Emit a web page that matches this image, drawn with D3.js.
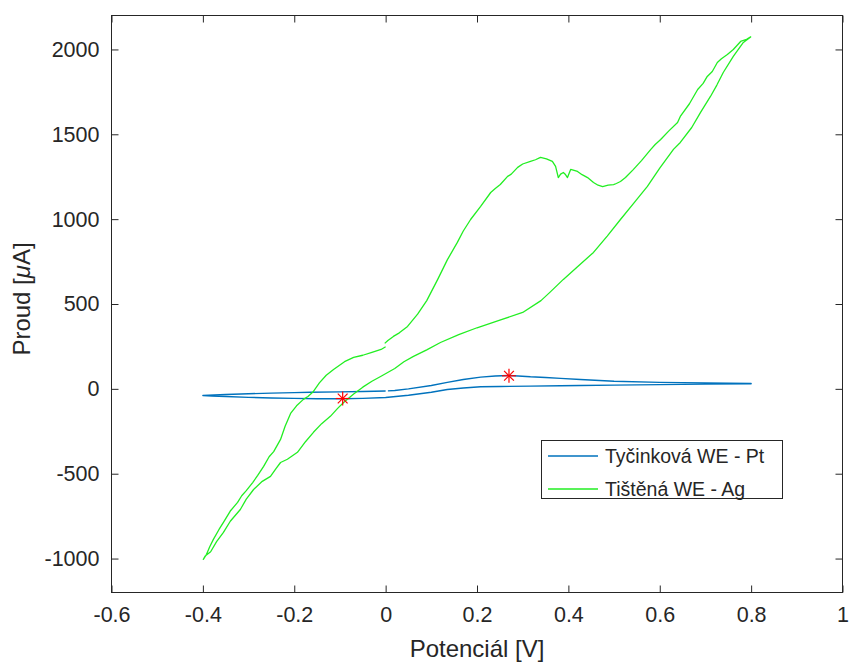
<!DOCTYPE html>
<html>
<head>
<meta charset="utf-8">
<script src="https://cdn.jsdelivr.net/npm/d3@7"></script>
<style>
  html, body { margin: 0; padding: 0; background: #fff; }
  svg { display: block; font-family: "Liberation Sans", Arial, Helvetica, sans-serif; }
</style>
</head>
<body>
<svg id="chart" width="849" height="664"></svg>
<script>
// ---- Data ----
const xTicks = [-0.6, -0.4, -0.2, 0, 0.2, 0.4, 0.6, 0.8, 1];
const xTickLabels = ["-0.6", "-0.4", "-0.2", "0", "0.2", "0.4", "0.6", "0.8", "1"];
const yTicks = [-1000, -500, 0, 500, 1000, 1500, 2000];
const yTickLabels = ["-1000", "-500", "0", "500", "1000", "1500", "2000"];

const seriesNames = ["Tyčinková WE - Pt", "Tištěná WE - Ag"];

// Pt rod electrode (blue)
const ptPotential = [0.0, -0.05, -0.1, -0.164, -0.2, -0.25, -0.3, -0.35, -0.4,
  -0.38, -0.35, -0.3, -0.25, -0.2, -0.15, -0.094, -0.05, 0.0, 0.05, 0.1, 0.135, 0.17, 0.208, 0.25, 0.317, 0.383, 0.426, 0.5, 0.6, 0.7, 0.8,
  0.8, 0.7, 0.6, 0.5, 0.426, 0.383, 0.35, 0.317, 0.29, 0.269, 0.24, 0.208, 0.17, 0.135, 0.1, 0.05, 0.02, 0.005];
const ptCurrent = [-13, -16, -18, -20, -22, -25, -29, -33, -39,
  -42, -45, -50, -54, -56, -58, -58, -56, -51, -38, -20, -4, 5, 12, 14, 16, 18, 20, 22, 25, 28, 30,
  32, 35, 38, 45, 55, 62, 67, 71, 76, 79, 76, 69, 55, 38, 20, 0, -10, -12];

// Printed Ag electrode (green)
const agPotential = [0.0, -0.01, -0.03, -0.05, -0.07, -0.09, -0.114, -0.13, -0.145, -0.158, -0.17, -0.18, -0.195, -0.208, -0.22, -0.23, -0.245, -0.255, -0.267, -0.28, -0.291, -0.305, -0.315, -0.324, -0.34, -0.355, -0.365, -0.377, -0.385, -0.392, -0.399,
  -0.395, -0.383, -0.37, -0.355, -0.34, -0.318, -0.305, -0.289, -0.27, -0.252, -0.24, -0.23, -0.215, -0.193, -0.175, -0.158, -0.14, -0.121, -0.105, -0.092, -0.07, -0.05, -0.03, -0.011, 0.02, 0.04, 0.061, 0.09, 0.12, 0.16, 0.2, 0.25, 0.3, 0.34, 0.36, 0.389, 0.42, 0.455, 0.485, 0.514, 0.545, 0.573, 0.6, 0.63, 0.645, 0.67, 0.689, 0.711, 0.725, 0.739, 0.761, 0.783, 0.799,
  0.79, 0.777, 0.761, 0.748, 0.735, 0.726, 0.715, 0.704, 0.695, 0.683, 0.665, 0.645, 0.639, 0.62, 0.602, 0.59, 0.58, 0.56, 0.542, 0.525, 0.514, 0.505, 0.499, 0.487, 0.475, 0.465, 0.455, 0.442, 0.43, 0.42, 0.405, 0.398, 0.393, 0.389, 0.383, 0.378, 0.372, 0.365, 0.352, 0.339, 0.328, 0.317, 0.3, 0.289, 0.275, 0.267, 0.251, 0.24, 0.23, 0.208, 0.186, 0.17, 0.157, 0.135, 0.114, 0.09, 0.07, 0.048, 0.03, 0.017, 0.005, -0.002];
const agCurrent = [248, 232, 215, 198, 185, 160, 114, 80, 35, -15, -45, -62, -100, -145, -220, -298, -370, -400, -457, -510, -552, -600, -630, -669, -720, -787, -830, -887, -930, -975, -1005,
  -985, -960, -900, -846, -780, -711, -650, -593, -545, -516, -470, -434, -415, -374, -310, -256, -205, -162, -115, -80, -30, 10, 45, 73, 120, 160, 191, 230, 273, 320, 360, 405, 450, 520, 570, 645, 720, 804, 900, 998, 1100, 1193, 1300, 1411, 1452, 1540, 1628, 1723, 1790, 1864, 1959, 2041, 2074,
  2060, 2047, 2000, 1970, 1945, 1923, 1870, 1841, 1800, 1764, 1680, 1605, 1569, 1520, 1469, 1440, 1410, 1345, 1292, 1245, 1222, 1210, 1204, 1200, 1192, 1200, 1216, 1245, 1262, 1281, 1293, 1245, 1265, 1275, 1265, 1245, 1311, 1340, 1355, 1364, 1350, 1340, 1325, 1305, 1265, 1252, 1204, 1180, 1157, 1075, 998, 930, 863, 760, 645, 520, 440, 368, 330, 309, 285, 268];

// Peak markers (red asterisks)
const peakPotential = [0.27, -0.094];
const peakCurrent = [77, -57];

// ---- Layout ----
const svg = d3.select("#chart");
const pL = 111.5, pR = 842.5, pT = 15.5, pB = 592.5;
const axisColor = "#262626";
const fontTick = 21.5;

const x = d3.scaleLinear().domain([-0.6, 1]).range([pL, pR]);
const y = d3.scaleLinear().domain([-1200, 2200]).range([pB, pT]);

svg.append("rect").attr("x", 0).attr("y", 0).attr("width", 849).attr("height", 664).attr("fill", "#fff");

// ---- Lines ----
const ptData = ptPotential.map((v, i) => [v, ptCurrent[i]]);
const agData = agPotential.map((v, i) => [v, agCurrent[i]]);
const line = d3.line().x(d => x(d[0])).y(d => y(d[1]));

svg.append("path").datum(ptData).attr("d", line)
  .attr("fill", "none").attr("stroke", "#0072BD").attr("stroke-width", 1.4).attr("stroke-linejoin", "round");
svg.append("path").datum(agData).attr("d", line)
  .attr("fill", "none").attr("stroke", "#22ee22").attr("stroke-width", 1.3).attr("stroke-linejoin", "round");

// asterisk markers
const peaks = peakPotential.map((v, i) => [v, peakCurrent[i]]);
const ms = 7;
const mk = svg.append("g").selectAll("g").data(peaks).join("g")
  .attr("transform", d => `translate(${x(d[0])},${y(d[1])})`);
[[0, -ms, 0, ms], [-ms, 0, ms, 0], [-ms*0.7, -ms*0.7, ms*0.7, ms*0.7], [-ms*0.7, ms*0.7, ms*0.7, -ms*0.7]].forEach(s => {
  mk.append("line").attr("x1", s[0]).attr("y1", s[1]).attr("x2", s[2]).attr("y2", s[3])
    .attr("stroke", "#ff0000").attr("stroke-width", 1.2);
});

// ---- Axes ----
const xAxis = d3.axisBottom(x).tickValues(xTicks).tickFormat((d, i) => xTickLabels[i]).tickSize(-7).tickPadding(14);
const xAxisTop = d3.axisTop(x).tickValues(xTicks).tickFormat("").tickSize(-7);
const yAxis = d3.axisLeft(y).tickValues(yTicks).tickFormat((d, i) => yTickLabels[i]).tickSize(-7).tickPadding(12);
const yAxisRight = d3.axisRight(y).tickValues(yTicks).tickFormat("").tickSize(-7);

function styleAxis(g) {
  g.select(".domain").remove();
  g.selectAll(".tick line").attr("stroke", axisColor).attr("stroke-width", 1);
  g.selectAll(".tick text").attr("fill", axisColor).style("font-size", fontTick + "px")
    .style("font-family", '"Liberation Sans", Arial, sans-serif');
}
svg.append("g").attr("transform", `translate(0,${pB})`).call(xAxis).call(styleAxis);
svg.append("g").attr("transform", `translate(0,${pT})`).call(xAxisTop).call(styleAxis);
svg.append("g").attr("transform", `translate(${pL},0)`).call(yAxis).call(styleAxis);
svg.append("g").attr("transform", `translate(${pR},0)`).call(yAxisRight).call(styleAxis);

svg.append("rect").attr("x", pL).attr("y", pT).attr("width", pR - pL).attr("height", pB - pT)
  .attr("fill", "none").attr("stroke", axisColor).attr("stroke-width", 1);

// axis labels
svg.append("text").attr("x", (pL + pR) / 2).attr("y", 657).attr("text-anchor", "middle")
  .attr("fill", axisColor).style("font-size", "24px").text("Potenciál [V]");

const yl = svg.append("text").attr("transform", `translate(30,${(pT + pB) / 2 - 5}) rotate(-90)`)
  .attr("text-anchor", "middle").attr("fill", axisColor).style("font-size", "24px");
yl.append("tspan").text("Proud [");
yl.append("tspan").style("font-style", "italic").text("μ");
yl.append("tspan").text("A]");

// ---- Legend ----
const legColors = ["#0072BD", "#22ee22"];
const lg = svg.append("g");
lg.append("rect").attr("x", 541.5).attr("y", 440.5).attr("width", 241).attr("height", 58)
  .attr("fill", "#fff").attr("stroke", axisColor).attr("stroke-width", 1);
seriesNames.forEach((name, i) => {
  const yy = 456 + i * 33;
  lg.append("line").attr("x1", 548).attr("x2", 598).attr("y1", yy).attr("y2", yy)
    .attr("stroke", legColors[i]).attr("stroke-width", 1.3);
  lg.append("text").attr("x", 605).attr("y", yy + 6.5).attr("fill", axisColor)
    .style("font-size", "19.5px").text(name);
});
</script>
</body>
</html>
